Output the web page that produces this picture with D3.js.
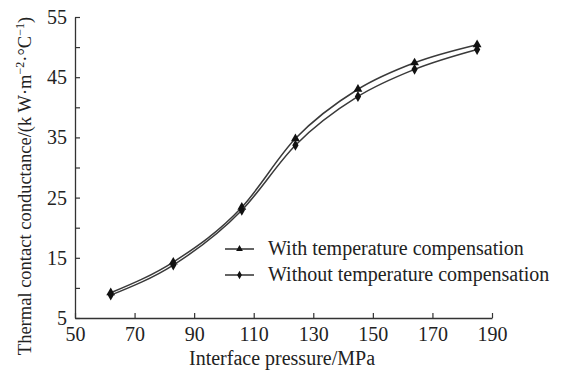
<!DOCTYPE html>
<html>
<head>
<meta charset="utf-8">
<script src="https://cdn.jsdelivr.net/npm/d3@7"></script>
<style>
  body { margin: 0; background: #fff; }
  svg text { font-family: "Liberation Serif", "Times New Roman", serif; fill: #222; }
</style>
</head>
<body>
<div id="chart"></div>
<script>
// data
const pressure = [62, 83, 106, 124, 145, 164, 185];
const withComp = [9.2, 14.3, 23.4, 34.8, 43.0, 47.4, 50.4];
const withoutComp = [8.8, 13.8, 22.9, 33.7, 41.8, 46.3, 49.6];
const xTicks = [50, 70, 90, 110, 130, 150, 170, 190];
const yTicks = [5, 10, 15, 20, 25, 30, 35, 40, 45, 50, 55];
const yLabels = [5, 15, 25, 35, 45, 55];
const seriesNames = ["With temperature compensation", "Without temperature compensation"];

const width = 561, height = 373;
const margin = { top: 17, right: 69, bottom: 55, left: 75 };

const svg = d3.select("#chart").append("svg")
  .attr("width", width)
  .attr("height", height);

const x = d3.scaleLinear().domain([50, 190]).range([margin.left, width - margin.right]);
const y = d3.scaleLinear().domain([5, 55]).range([height - margin.bottom, margin.top]);

// axes, ticks pointing inward
const xAxis = svg.append("g")
  .attr("transform", `translate(0,${y(5)})`)
  .call(d3.axisBottom(x).tickValues(xTicks).tickSizeInner(-5).tickSizeOuter(0).tickPadding(10));
const yAxis = svg.append("g")
  .attr("transform", `translate(${x(50)},0)`)
  .call(d3.axisLeft(y).tickValues(yTicks).tickSizeInner(-5).tickSizeOuter(0).tickPadding(8)
    .tickFormat(d => yLabels.includes(d) ? d : ""));

[xAxis, yAxis].forEach(g => {
  g.select(".domain").attr("stroke", "#333").attr("stroke-width", 1.3);
  g.selectAll(".tick line").attr("stroke", "#333").attr("stroke-width", 1.2);
  g.selectAll(".tick text").style("font-size", "20px").attr("fill", "#222");
});
xAxis.selectAll(".tick text").attr("dy", "0.65em");

// axis titles
svg.append("text")
  .attr("x", 282).attr("y", 365)
  .attr("text-anchor", "middle")
  .style("font-size", "20px")
  .text("Interface pressure/MPa");

const yTitle = svg.append("text")
  .attr("transform", "translate(31,186) rotate(-90)")
  .attr("text-anchor", "middle")
  .style("font-size", "18.5px");
yTitle.append("tspan").text("Thermal contact conductance/(k W·m");
yTitle.append("tspan").attr("dy", -7).style("font-size", "12px").text("−2");
yTitle.append("tspan").attr("dy", 7).text("·°C");
yTitle.append("tspan").attr("dy", -7).style("font-size", "12px").text("−1");
yTitle.append("tspan").attr("dy", 7).text(")");

// curves
const line = d3.line()
  .x(d => x(d[0]))
  .y(d => y(d[1]))
  .curve(d3.curveMonotoneX);

const series = [
  { name: seriesNames[0], values: withComp, symbol: d3.symbolTriangle },
  { name: seriesNames[1], values: withoutComp, symbol: d3.symbolDiamond }
];

series.forEach(s => {
  const pts = pressure.map((p, i) => [p, s.values[i]]);
  svg.append("path")
    .datum(pts)
    .attr("d", line)
    .attr("fill", "none")
    .attr("stroke", "#3a3a3a")
    .attr("stroke-width", 1.5);
  svg.selectAll(null)
    .data(pts)
    .enter().append("path")
    .attr("transform", d => `translate(${x(d[0])},${y(d[1])})`)
    .attr("d", d3.symbol().type(s.symbol).size(34))
    .attr("fill", "#111");
});

// legend
const legend = svg.append("g").attr("transform", "translate(225,249)");
series.forEach((s, i) => {
  const row = legend.append("g").attr("transform", `translate(0,${i * 26})`);
  row.append("line")
    .attr("x1", 0).attr("x2", 29)
    .attr("stroke", "#222").attr("stroke-width", 1.4);
  row.append("path")
    .attr("transform", "translate(14.5,0)")
    .attr("d", d3.symbol().type(s.symbol).size(20))
    .attr("fill", "#111");
  row.append("text")
    .attr("x", 43).attr("y", 6)
    .style("font-size", "20px")
    .text(s.name);
});
</script>
</body>
</html>
